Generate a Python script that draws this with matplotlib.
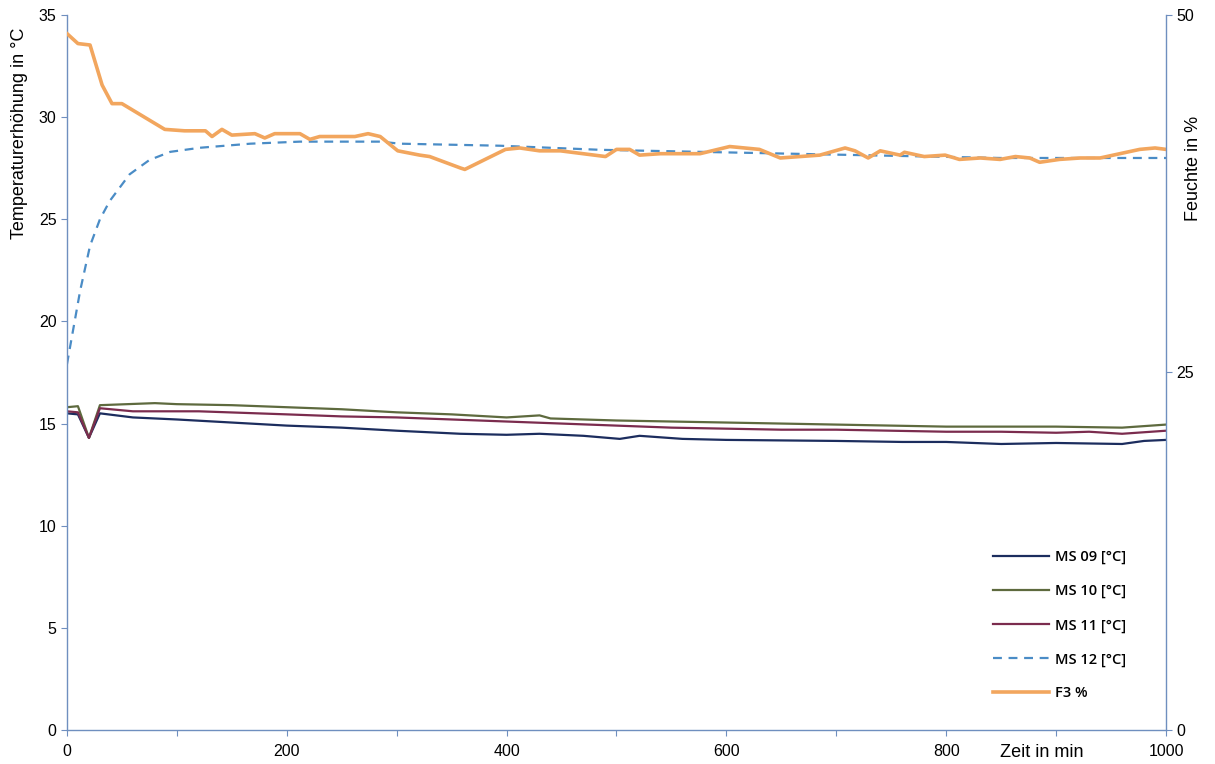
import matplotlib
matplotlib.use("Agg")
import matplotlib.pyplot as plt
from matplotlib.ticker import MultipleLocator

# time axis (min) for each series
t_ms09 = [0, 10, 20, 30, 60, 100, 150, 200, 250, 300, 358, 400, 430, 470, 503, 521, 560, 600, 700, 760, 800, 850, 900, 960, 980, 1000]
ms09 = [15.5, 15.45, 14.3, 15.5, 15.3, 15.2, 15.05, 14.9, 14.8, 14.65, 14.5, 14.45, 14.5, 14.4, 14.25, 14.4, 14.25, 14.2, 14.15, 14.1, 14.1, 14.0, 14.05, 14.0, 14.15, 14.2]

t_ms10 = [0, 10, 20, 30, 80, 100, 150, 200, 250, 300, 350, 400, 430, 440, 500, 550, 600, 650, 700, 750, 800, 850, 900, 960, 1000]
ms10 = [15.8, 15.85, 14.3, 15.9, 16.0, 15.95, 15.9, 15.8, 15.7, 15.55, 15.45, 15.3, 15.4, 15.25, 15.15, 15.1, 15.05, 15.0, 14.95, 14.9, 14.85, 14.85, 14.85, 14.8, 14.95]

t_ms11 = [0, 10, 20, 30, 60, 120, 200, 250, 300, 350, 400, 450, 500, 550, 600, 650, 700, 750, 800, 850, 900, 930, 960, 1000]
ms11 = [15.6, 15.55, 14.3, 15.75, 15.6, 15.6, 15.45, 15.35, 15.3, 15.2, 15.1, 15.0, 14.9, 14.8, 14.75, 14.7, 14.7, 14.65, 14.6, 14.6, 14.55, 14.6, 14.5, 14.65]

t_ms12 = [0, 12, 21, 30, 39, 57, 75, 94, 121, 167, 212, 285, 303, 394, 485, 576, 667, 758, 849, 1000]
ms12 = [17.9, 21.5, 23.7, 25.0, 25.9, 27.2, 27.9, 28.3, 28.5, 28.7, 28.8, 28.8, 28.7, 28.6, 28.4, 28.3, 28.2, 28.1, 28.0, 28.0]

t_f3 = [0, 10, 21, 32, 41, 50, 89, 107, 126, 132, 141, 150, 171, 180, 189, 212, 221, 230, 262, 274, 285,
        301, 321, 330, 358, 362, 399, 412, 430, 449, 490, 500, 512, 521, 540, 576, 603, 630, 649, 667, 685,
        708, 717, 729, 740, 758, 762, 780, 799, 812, 831, 849, 863, 876, 885, 903, 922, 940, 958, 976, 990, 1000]
f3 = [48.7, 48.0, 47.9, 45.1, 43.8, 43.8, 42.0, 41.9, 41.9, 41.5, 42.0, 41.6, 41.7, 41.4, 41.7, 41.7, 41.3, 41.5, 41.5, 41.7, 41.5,
      40.5, 40.2, 40.1, 39.3, 39.2, 40.6, 40.7, 40.5, 40.5, 40.1, 40.6, 40.6, 40.2, 40.3, 40.3, 40.8, 40.6, 40.0, 40.1, 40.2,
      40.7, 40.5, 40.0, 40.5, 40.2, 40.4, 40.1, 40.2, 39.9, 40.0, 39.9, 40.1, 40.0, 39.7, 39.9, 40.0, 40.0, 40.3, 40.6, 40.7, 40.6]

spine_col = "#6f8fbf"
tick_font = "Liberation Sans"

fig = plt.figure(figsize=(12.15, 7.64), dpi=100)
ax = fig.add_axes([0.0551, 0.0445, 0.9046, 0.9359])
ax2 = ax.twinx()

l1, = ax.plot(t_ms09, ms09, color="#1c2d5e", lw=1.6, label="MS 09 [°C]")
l2, = ax.plot(t_ms10, ms10, color="#5e6a3e", lw=1.6, label="MS 10 [°C]")
l3, = ax.plot(t_ms11, ms11, color="#7b2c4e", lw=1.6, label="MS 11 [°C]")
l4, = ax.plot(t_ms12, ms12, color="#4a8cc6", lw=1.6, ls=(0, (4, 3)), label="MS 12 [°C]")
l5, = ax2.plot(t_f3, f3, color="#f2a65e", lw=2.6, label="F3 %")

ax.set_xlim(0, 1000)
ax.set_ylim(0, 35)
ax2.set_ylim(0, 50)
ax.xaxis.set_major_locator(MultipleLocator(200))
ax.xaxis.set_minor_locator(MultipleLocator(100))
ax.yaxis.set_major_locator(MultipleLocator(5))
ax2.yaxis.set_major_locator(MultipleLocator(25))

for a in (ax, ax2):
    a.spines["top"].set_visible(False)
    for s in ("left", "right", "bottom"):
        a.spines[s].set_color(spine_col)
        a.spines[s].set_linewidth(1.0)
    a.tick_params(colors=spine_col, labelcolor="black", labelsize=11.5, length=4, width=0.8)
ax.spines["right"].set_visible(False)
ax2.spines["left"].set_visible(False)
ax2.spines["bottom"].set_visible(False)
ax.tick_params(axis="x", which="minor", colors=spine_col, length=4, width=0.8)
ax.tick_params(axis="x", pad=6)

for lab in ax.get_xticklabels() + ax.get_yticklabels() + ax2.get_yticklabels():
    lab.set_family(tick_font)

# x-axis title sits in the tick label row, left of the 1000 label
ax.annotate("Zeit in min", xy=(887, 0), xycoords=("data", "axes fraction"),
            xytext=(0, -16), textcoords="offset points",
            ha="center", va="center", fontsize=13, family=tick_font)

fig.text(0.016, 0.825, "Temperaturerhöhung in °C", rotation=90, ha="center", va="center",
         fontsize=13, family="Liberation Sans")
fig.text(0.982, 0.78, "Feuchte in %", rotation=90, ha="center", va="center",
         fontsize=13, family="Liberation Sans")

leg = ax.legend(handles=[l1, l2, l3, l4, l5], loc="upper left", bbox_to_anchor=(0.831, 0.27),
                frameon=False, handlelength=3.8, labelspacing=1.36, handletextpad=0.4,
                prop={"family": "Open Sans", "size": 10.5, "weight": "semibold"})

fig.savefig("out.png", dpi=100)
